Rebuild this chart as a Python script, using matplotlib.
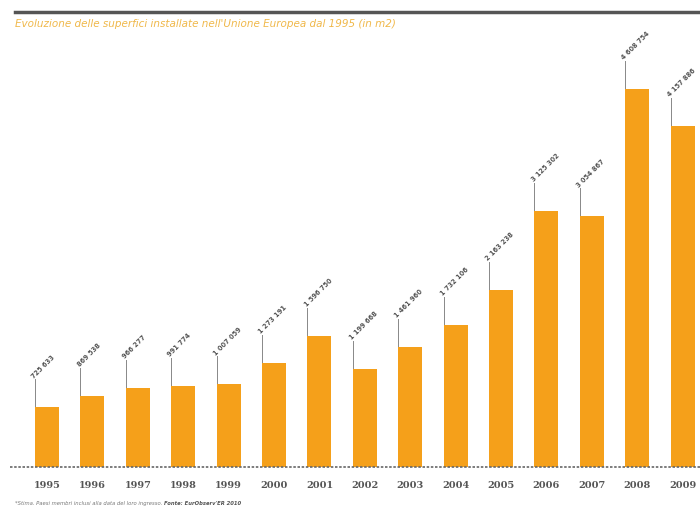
import matplotlib
matplotlib.use("Agg")
import matplotlib.pyplot as plt

years = ["1995", "1996", "1997", "1998", "1999", "2000", "2001", "2002",
         "2003", "2004", "2005", "2006", "2007", "2008", "2009"]
values = [725633, 869538, 966277, 991774, 1007059, 1273191, 1596750, 1199668,
          1461960, 1732106, 2163238, 3125302, 3054867, 4608754, 4157886]
labels = ["725 633", "869 538", "966 277", "991 774", "1 007 059", "1 273 191",
          "1 596 750", "1 199 668", "1 461 960", "1 732 106", "2 163 238",
          "3 125 302", "3 054 867", "4 608 754", "4 157 886"]
title = "Evoluzione delle superfici installate nell'Unione Europea dal 1995 (in m2)"
note = "*Stima. Paesi membri inclusi alla data del loro ingresso. "
source = "Fonte: EurObserv'ER 2010"

W, H = 700, 511
fig = plt.figure(figsize=(7, 5.11), dpi=100)
base_px = 467
top_px = 40
ax = fig.add_axes([10 / W, (H - base_px) / H, 690 / W, (base_px - top_px) / H])

scale = (base_px - 89) / values[13]  # px per unit
ymax = (base_px - top_px) / scale
step = 45.4
xl = (10 - 47) / step
xr = (700 - 47) / step
ax.set_xlim(xl, xr)
ax.set_ylim(0, ymax)

bar_w = 24 / step
color = "#F5A01A"
xs = list(range(len(years)))
ax.bar(xs, values, width=bar_w, color=color, zorder=2)

lead = 28 / scale
for x, v, lab in zip(xs, values, labels):
    lx = x - bar_w / 2
    ax.plot([lx, lx], [v, v + lead], color="#888888", lw=0.7, zorder=1)
    ax.text(lx, v + lead, lab, rotation=45, ha="left", va="bottom",
            rotation_mode="anchor", fontsize=4.8, color="#555555",
            fontweight="bold")

for s in ax.spines.values():
    s.set_visible(False)
ax.set_yticks([])
ax.set_xticks(xs)
ax.set_xticklabels(years, family="DejaVu Serif", fontweight="bold",
                   fontsize=7, color="#555555")
ax.tick_params(axis="x", length=0, pad=10)
ax.axhline(0, color="#666666", lw=1.2, ls=(0, (1.5, 1)), zorder=3,
           clip_on=False)

# top rule
fig.add_artist(plt.Line2D([15 / W, 1], [1 - 12 / H, 1 - 12 / H],
                          color="#555555", lw=2.5))
fig.text(15 / W, 1 - 24 / H, title, fontsize=7.5, style="italic",
         color="#F0B84A", ha="left", va="center")
t = fig.text(15 / W, 1 - 503 / H, note, fontsize=3.8, style="italic",
             color="#777777", ha="left", va="center")
fig.canvas.draw()
bb = t.get_window_extent()
fig.text(bb.x1 / W, 1 - 503 / H, source, fontsize=3.8, style="italic",
         fontweight="bold", color="#555555", ha="left", va="center")

fig.savefig("out.png", dpi=100)
